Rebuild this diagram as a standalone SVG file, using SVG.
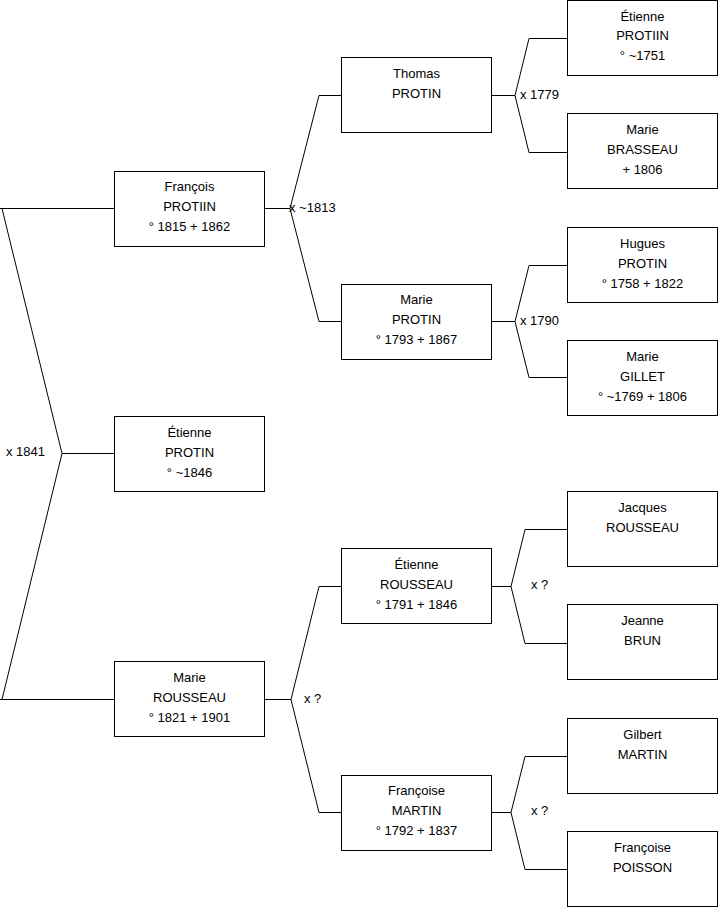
<svg xmlns="http://www.w3.org/2000/svg" width="719" height="908" viewBox="0 0 719 908">
<style>
.box{fill:#fff;stroke:#000;stroke-width:1}
.ln{fill:none;stroke:#000;stroke-width:1}
text{font-family:"Liberation Sans",Arial,sans-serif;font-size:13px;fill:#000}
.c{text-anchor:middle}
</style>
<rect width="719" height="908" fill="#fff"/>
<g id="connectors">
<polyline class="ln" points="114,208.5 0,208.5"/>
<polyline class="ln" points="114,699.5 0,699.5"/>
<polyline class="ln" points="2,208.5 62,453.5 2,699.5"/>
<polyline class="ln" points="62,453.5 114,453.5"/>
<polyline class="ln" points="265,208.5 290,208.5"/>
<polyline class="ln" points="341,95.5 319,95.5 290,208.5 319,321.5 341,321.5"/>
<polyline class="ln" points="265,699.5 291,699.5"/>
<polyline class="ln" points="341,586.5 319,586.5 291,699.5 319,812.5 341,812.5"/>
<polyline class="ln" points="492,95.5 515,95.5"/>
<polyline class="ln" points="567,38.5 529,38.5 515,95.5 529,152.5 567,152.5"/>
<polyline class="ln" points="492,321.5 515,321.5"/>
<polyline class="ln" points="567,265.5 529,265.5 515,321.5 529,377.5 567,377.5"/>
<polyline class="ln" points="492,586.5 511,586.5"/>
<polyline class="ln" points="567,529.5 525,529.5 511,586.5 525,643.5 567,643.5"/>
<polyline class="ln" points="492,812.5 511,812.5"/>
<polyline class="ln" points="567,756.5 525,756.5 511,812.5 525,869.5 567,869.5"/>
<text x="6" y="456">x 1841</text>
<text x="289" y="212">x ~1813</text>
<text x="304" y="703">x ?</text>
<text x="520" y="99">x 1779</text>
<text x="520" y="325">x 1790</text>
<text x="531" y="589">x ?</text>
<text x="531" y="815">x ?</text>
</g>
<g id="francois"><rect class="box" x="114.5" y="171.5" width="150" height="75"/><text class="c" x="189.5" y="191">François</text><text class="c" x="189.5" y="211">PROTIIN</text><text class="c" x="189.5" y="231">° 1815 + 1862</text></g>
<g id="etienne"><rect class="box" x="114.5" y="416.5" width="150" height="75"/><text class="c" x="189.5" y="437">Étienne</text><text class="c" x="189.5" y="457">PROTIN</text><text class="c" x="189.5" y="477">° ~1846</text></g>
<g id="marie-rousseau"><rect class="box" x="114.5" y="661.5" width="150" height="75"/><text class="c" x="189.5" y="682">Marie</text><text class="c" x="189.5" y="702">ROUSSEAU</text><text class="c" x="189.5" y="722">° 1821 + 1901</text></g>
<g id="thomas"><rect class="box" x="341.5" y="57.5" width="150" height="75"/><text class="c" x="416.5" y="78">Thomas</text><text class="c" x="416.5" y="98">PROTIN</text></g>
<g id="marie-protin"><rect class="box" x="341.5" y="284.5" width="150" height="75"/><text class="c" x="416.5" y="304">Marie</text><text class="c" x="416.5" y="324">PROTIN</text><text class="c" x="416.5" y="344">° 1793 + 1867</text></g>
<g id="etienne-rousseau"><rect class="box" x="341.5" y="548.5" width="150" height="75"/><text class="c" x="416.5" y="569">Étienne</text><text class="c" x="416.5" y="589">ROUSSEAU</text><text class="c" x="416.5" y="609">° 1791 + 1846</text></g>
<g id="francoise-martin"><rect class="box" x="341.5" y="775.5" width="150" height="75"/><text class="c" x="416.5" y="795">Françoise</text><text class="c" x="416.5" y="815">MARTIN</text><text class="c" x="416.5" y="835">° 1792 + 1837</text></g>
<g id="etienne-protiin"><rect class="box" x="567.5" y="0.5" width="150" height="75"/><text class="c" x="642.5" y="21">Étienne</text><text class="c" x="642.5" y="40">PROTIIN</text><text class="c" x="642.5" y="60">° ~1751</text></g>
<g id="marie-brasseau"><rect class="box" x="567.5" y="113.5" width="150" height="75"/><text class="c" x="642.5" y="134">Marie</text><text class="c" x="642.5" y="154">BRASSEAU</text><text class="c" x="642.5" y="174">+ 1806</text></g>
<g id="hugues"><rect class="box" x="567.5" y="227.5" width="150" height="75"/><text class="c" x="642.5" y="248">Hugues</text><text class="c" x="642.5" y="268">PROTIN</text><text class="c" x="642.5" y="288">° 1758 + 1822</text></g>
<g id="marie-gillet"><rect class="box" x="567.5" y="340.5" width="150" height="75"/><text class="c" x="642.5" y="361">Marie</text><text class="c" x="642.5" y="381">GILLET</text><text class="c" x="642.5" y="401">° ~1769 + 1806</text></g>
<g id="jacques"><rect class="box" x="567.5" y="491.5" width="150" height="75"/><text class="c" x="642.5" y="512">Jacques</text><text class="c" x="642.5" y="532">ROUSSEAU</text></g>
<g id="jeanne"><rect class="box" x="567.5" y="604.5" width="150" height="75"/><text class="c" x="642.5" y="625">Jeanne</text><text class="c" x="642.5" y="645">BRUN</text></g>
<g id="gilbert"><rect class="box" x="567.5" y="718.5" width="150" height="75"/><text class="c" x="642.5" y="739">Gilbert</text><text class="c" x="642.5" y="759">MARTIN</text></g>
<g id="francoise-poisson"><rect class="box" x="567.5" y="831.5" width="150" height="75"/><text class="c" x="642.5" y="852">Françoise</text><text class="c" x="642.5" y="872">POISSON</text></g>
</svg>
